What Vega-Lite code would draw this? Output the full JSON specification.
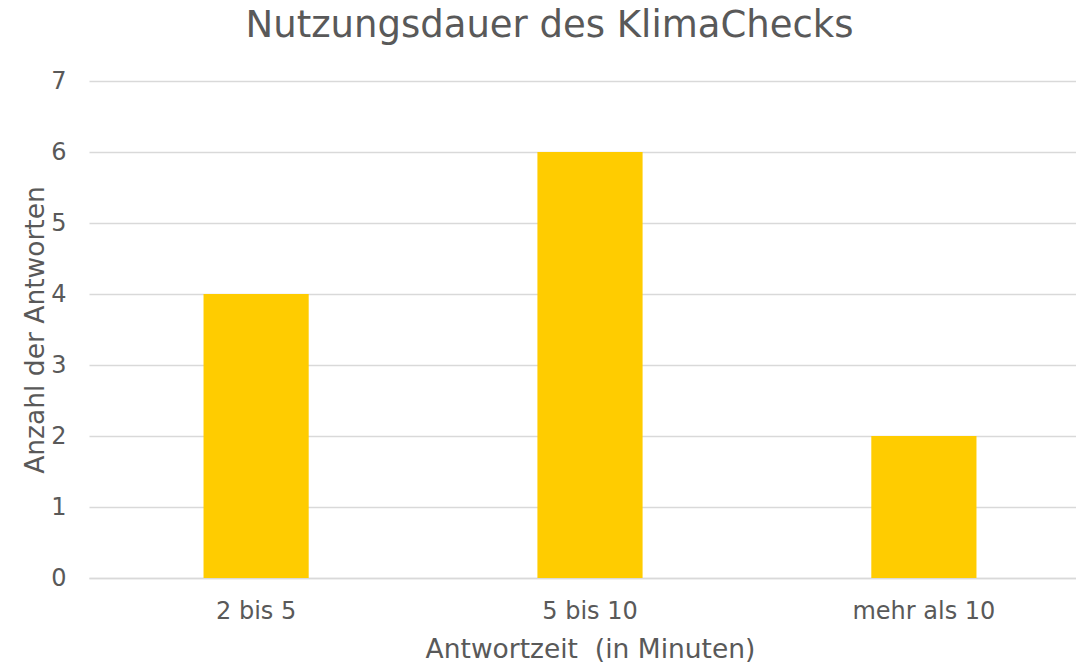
{
  "$schema": "https://vega.github.io/schema/vega-lite/v6.json",
  "autosize": {"type": "none"},
  "padding": {"left": 89, "top": 81, "right": 0, "bottom": 85},
  "width": 987,
  "height": 497,
  "background": "white",
  "title": {
    "text": "Nutzungsdauer des KlimaChecks",
    "font": "DejaVu Sans",
    "fontSize": 37,
    "fontWeight": "normal",
    "color": "#595959",
    "anchor": "middle",
    "dx": -33,
    "offset": 24
  },
  "config": {
    "view": {"stroke": null},
    "font": "DejaVu Sans"
  },
  "data": {
    "values": [
      {"Antwortzeit": "2 bis 5", "Anzahl": 4},
      {"Antwortzeit": "5 bis 10", "Anzahl": 6},
      {"Antwortzeit": "mehr als 10", "Anzahl": 2}
    ]
  },
  "mark": {"type": "bar", "color": "#FFCC00"},
  "encoding": {
    "x": {
      "field": "Antwortzeit",
      "type": "nominal",
      "sort": null,
      "scale": {"range": [0, 1002], "paddingInner": 0.685, "paddingOuter": 0.343},
      "axis": {
        "title": "Antwortzeit \u00a0(in Minuten)",
        "titleFont": "DejaVu Sans",
        "titleFontSize": 26.5,
        "titleFontWeight": "normal",
        "titleColor": "#595959",
        "titleBaseline": "alphabetic",
        "titleY": 79,
        "labelFont": "DejaVu Sans",
        "labelFontSize": 24,
        "labelColor": "#595959",
        "labelAngle": 0,
        "labelBaseline": "alphabetic",
        "labelPadding": 40,
        "ticks": false,
        "domain": true,
        "domainColor": "#d9d9d9",
        "domainWidth": 1.5,
        "grid": false
      }
    },
    "y": {
      "field": "Anzahl",
      "type": "quantitative",
      "scale": {"domain": [0, 7], "nice": false},
      "axis": {
        "title": "Anzahl der Antworten",
        "titleFont": "DejaVu Sans",
        "titleFontSize": 26.5,
        "titleFontWeight": "normal",
        "titleColor": "#595959",
        "titleBaseline": "alphabetic",
        "titleX": -46,
        "labelFont": "DejaVu Sans",
        "labelFontSize": 24,
        "labelColor": "#595959",
        "labelPadding": 23,
        "labelOverlap": false,
        "values": [0, 1, 2, 3, 4, 5, 6, 7],
        "ticks": false,
        "domain": false,
        "grid": true,
        "gridColor": "#d9d9d9",
        "gridWidth": 1.5
      }
    }
  }
}
